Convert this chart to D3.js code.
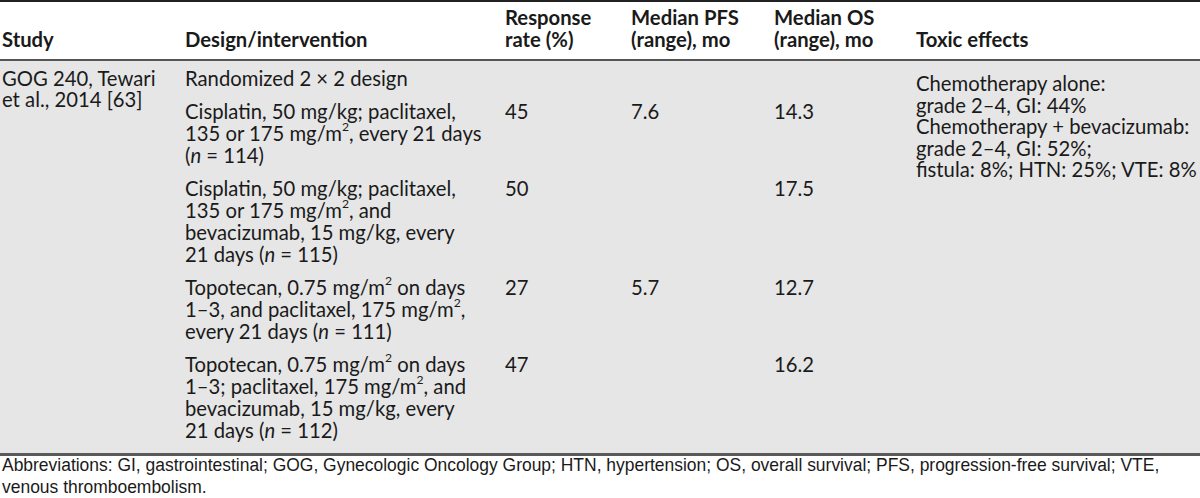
<!DOCTYPE html>
<html><head><meta charset="utf-8">
<script src="https://cdn.jsdelivr.net/npm/d3@7"></script>
<style>html,body{margin:0;padding:0;background:#fff}svg{display:block}</style>
</head><body><div id="chart"></div>
<script>
// ---------- data ----------
const columnKeys = ["study", "design", "response", "pfs", "os", "toxic"];
const headerLines = [
  ["", "Study"],
  ["", "Design/intervention"],
  ["Response", "rate (%)"],
  ["Median PFS", "(range), mo"],
  ["Median OS", "(range), mo"],
  ["", "Toxic effects"]
];
const studyLines = ["GOG 240, Tewari", "et al., 2014 [63]"];
const designRows = [
  ["Randomized 2 × 2 design"],
  ["Cisplatin, 50 mg/kg; paclitaxel,", "135 or 175 mg/m^2, every 21 days", "(_n_ = 114)"],
  ["Cisplatin, 50 mg/kg; paclitaxel,", "135 or 175 mg/m^2, and", "bevacizumab, 15 mg/kg, every", "21 days (_n_ = 115)"],
  ["Topotecan, 0.75 mg/m^2 on days", "1–3, and paclitaxel, 175 mg/m^2,", "every 21 days (_n_ = 111)"],
  ["Topotecan, 0.75 mg/m^2 on days", "1–3; paclitaxel, 175 mg/m^2, and", "bevacizumab, 15 mg/kg, every", "21 days (_n_ = 112)"]
];
const responseRates = [null, 45, 50, 27, 47];
const medianPFS = [null, 7.6, null, 5.7, null];
const medianOS = [null, 14.3, 17.5, 12.7, 16.2];
const toxicLines = [
  "Chemotherapy alone:",
  "grade 2–4, GI: 44%",
  "Chemotherapy + bevacizumab:",
  "grade 2–4, GI: 52%;",
  "fistula: 8%; HTN: 25%; VTE: 8%"
];
const footnoteLines = [
  "Abbreviations: GI, gastrointestinal; GOG, Gynecologic Oncology Group; HTN, hypertension; OS, overall survival; PFS, progression-free survival; VTE,",
  "venous thromboembolism."
];

// ---------- layout ----------
const W = 1200, H = 498;
const FONT = "Lato, 'Open Sans', sans-serif";
const svg = d3.select("#chart").append("svg").attr("width", W).attr("height", H)
  .style("font-family", FONT);

// fit body font size so a reference line has the reference width
const probe = svg.append("text").attr("font-size", 20).text("Cisplatin, 50 mg/kg; paclitaxel,");
const fs = 20 * 271 / probe.node().getComputedTextLength();
probe.remove();

const x = d3.scaleOrdinal().domain(columnKeys).range([2, 185, 505, 631, 774, 916]);

const headerTop = 60, bodyBottom = 453;
const lineH = 22, rowGap = 11, firstBase = 85.5, toxicBase = 91, toxicLineH = 21.6;
const rowBase = [];
designRows.reduce((acc, r, i) => { rowBase[i] = acc; return acc + r.length * lineH + rowGap; }, firstBase);

// background & rules
svg.append("rect").attr("x", 0).attr("y", headerTop + 1).attr("width", W).attr("height", bodyBottom - headerTop - 1).attr("fill", "#e6e6e6");
svg.append("line").attr("x1", 0).attr("x2", W).attr("y1", 1).attr("y2", 1).attr("stroke", "#222").attr("stroke-width", 2);
svg.append("line").attr("x1", 0).attr("x2", W).attr("y1", headerTop).attr("y2", headerTop).attr("stroke", "#555").attr("stroke-width", 2);
svg.append("line").attr("x1", 0).attr("x2", W).attr("y1", bodyBottom + 1.5).attr("y2", bodyBottom + 1.5).attr("stroke", "#5a5a5a").attr("stroke-width", 3);

const ink = "#1a1a1a";

function rich(textSel, str) {
  const parts = str.split(/(\^2|_n_)/).filter(p => p !== "");
  let shift = 0;
  parts.forEach(p => {
    const t = textSel.append("tspan");
    if (p === "^2") {
      t.text("2").attr("font-size", fs * 0.6).attr("dy", -fs * 0.45);
      shift = fs * 0.45;
    } else {
      t.text(p === "_n_" ? "n" : p);
      if (p === "_n_") t.attr("font-style", "italic");
      if (shift) { t.attr("dy", shift); shift = 0; }
    }
  });
}

// header
const hdr = svg.append("g").attr("font-weight", 700).attr("font-size", fs).attr("fill", ink);
headerLines.forEach((lines, ci) => {
  lines.forEach((s, li) => {
    if (!s) return;
    hdr.append("text").attr("x", x(columnKeys[ci])).attr("y", 25 + li * 22).text(s);
  });
});

const body = svg.append("g").attr("font-size", fs).attr("fill", ink);

// study
body.selectAll("text.study").data(studyLines).join("text").attr("class", "study")
  .attr("x", x("study")).attr("y", (d, i) => firstBase + i * 21.5).text(d => d);

// design rows
designRows.forEach((lines, ri) => {
  lines.forEach((s, li) => {
    const t = body.append("text").attr("x", x("design")).attr("y", rowBase[ri] + li * lineH);
    rich(t, s);
  });
});

// numeric columns
const numCols = [["response", responseRates, d3.format("d")], ["pfs", medianPFS, d3.format(".1f")], ["os", medianOS, d3.format(".1f")]];
numCols.forEach(([key, vals, f]) => {
  body.selectAll("text." + key).data(vals.map((v, i) => ({ v, i })).filter(d => d.v != null)).join("text")
    .attr("class", key).attr("x", x(key)).attr("y", d => rowBase[d.i]).text(d => f(d.v));
});

// toxic effects
body.selectAll("text.toxic").data(toxicLines).join("text").attr("class", "toxic")
  .attr("x", x("toxic")).attr("y", (d, i) => toxicBase + i * toxicLineH).text(d => d);

// footnote
const fn = svg.append("g").attr("fill", ink).style("font-family", "'Liberation Sans Narrow', 'Arial Narrow', sans-serif");
const fnProbe = fn.append("text").attr("font-size", 20).text(footnoteLines[0]);
const fnFs = 20 * 1158 / fnProbe.node().getComputedTextLength();
fnProbe.remove();
fn.selectAll("text").data(footnoteLines).join("text")
  .attr("x", 2).attr("y", (d, i) => 471 + i * 22).attr("font-size", fnFs).text(d => d);
</script>
</body></html>
